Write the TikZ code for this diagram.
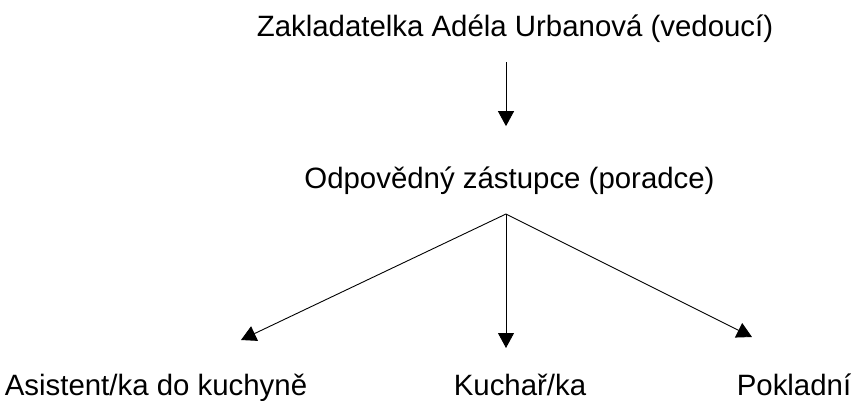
\documentclass[tikz,border=0pt]{standalone}
\usepackage{fontspec}
\setmainfont{Liberation Sans}
\usetikzlibrary{arrows.meta}
\tikzset{
  orgname/.style={anchor=base, inner sep=0pt, font=\fontsize{29.4}{34}\selectfont},
  orglink/.style={line width=0.9pt, -{Triangle[length=15pt,width=16pt]}}
}

\begin{document}
\begin{tikzpicture}[x=1pt,y=-1pt]
\useasboundingbox (0,0) rectangle (854,400);
\node[orgname] (head) at (515,36) {Zakladatelka Adéla Urbanová (vedoucí)};
\node[orgname] (deputy) at (509.5,188) {Odpovědný zástupce (poradce)};
\node[orgname] (assist) at (156,395) {Asistent/ka do kuchyně};
\node[orgname] (cook) at (520,395) {Kuchař/ka};
\node[orgname] (cash) at (794,395) {Pokladní};
\coordinate (fan) at (506,214);
\coordinate (assistTip) at (241,340);
\coordinate (cookTip) at (506,348);
\coordinate (cashTip) at (752,337);
\draw[orglink, shorten <=20pt, shorten >=40pt] (head.south -| fan) -- (deputy.north -| fan);
\draw[orglink] (fan) -- (assistTip);
\draw[orglink] (fan) -- (cookTip);
\draw[orglink] (fan) -- (cashTip);
\end{tikzpicture}
\end{document}
